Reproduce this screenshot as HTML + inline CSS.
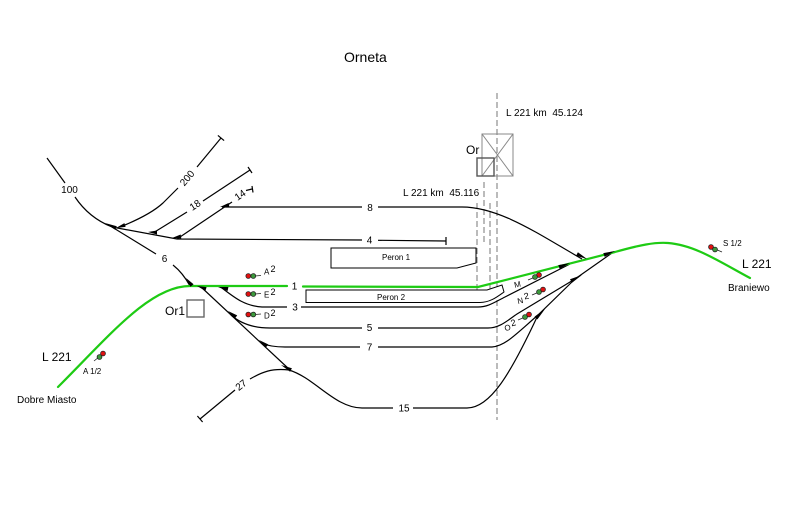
<!DOCTYPE html>
<html>
<head>
<meta charset="utf-8">
<style>
html,body{margin:0;padding:0;background:#fff;}
svg{display:block;}
text{font-family:"Liberation Sans",Arial,sans-serif;fill:#000;}
</style>
</head>
<body>
<svg width="787" height="506" viewBox="0 0 787 506" xmlns="http://www.w3.org/2000/svg">
<rect width="787" height="506" fill="#fff"/>

<!-- Title -->
<text x="344" y="62" font-size="14">Orneta</text>

<!-- Dashed km lines -->
<g stroke="#777" stroke-width="1" stroke-dasharray="6,3" fill="none">
  <line x1="497" y1="93" x2="497" y2="420"/>
  <line x1="484" y1="182" x2="484" y2="242"/>
  <line x1="477" y1="203" x2="477" y2="302"/>
  <line x1="490" y1="203" x2="490" y2="293"/>
</g>
<text x="506" y="116" font-size="10" xml:space="preserve">L 221 km  45.124</text>
<text x="403" y="196" font-size="10" xml:space="preserve">L 221 km  45.116</text>

<!-- Or building -->
<g fill="none">
  <rect x="482" y="134" width="31" height="42" stroke="#888" stroke-width="1"/>
  <line x1="482" y1="134" x2="513" y2="176" stroke="#888" stroke-width="1"/>
  <line x1="513" y1="134" x2="482" y2="176" stroke="#888" stroke-width="1"/>
  <rect x="477" y="158" width="17" height="18" stroke="#555" stroke-width="1.4"/>
</g>
<text x="466" y="154" font-size="12">Or</text>

<!-- Or1 -->
<rect x="187" y="300" width="17" height="17" fill="none" stroke="#666" stroke-width="1.4"/>
<text x="165" y="315" font-size="12">Or1</text>

<!-- Platforms -->
<polygon points="331,248 476,248 476,263 457,268 331,268" fill="#fff" stroke="#000" stroke-width="1"/>
<text x="382" y="260" font-size="8">Peron 1</text>
<path d="M306,290 L487,290 L502,285 L504,292 C497,297 490,302.5 480,302.5 L306,302.5 Z" fill="#fff" stroke="#000" stroke-width="1"/>
<text x="377" y="300" font-size="8">Peron 2</text>

<!-- Black tracks -->
<g stroke="#000" stroke-width="1.2" fill="none">
  <!-- 100 / 6 -->
  <path d="M47,158 L65,183"/>
  <path d="M75,197 C85,212 97,221 112,227 L156,254"/>
  <path d="M173,265 Q183,273 190,286"/>
  <!-- 200 -->
  <path d="M120,227 Q150,215 163,203 L178,188"/>
  <path d="M197,167 L221,138"/>
  <line x1="217.9" y1="135.4" x2="224.1" y2="140.6"/>
  <!-- branch line to 4 -->
  <path d="M112,227 L177,239 L362,240"/>
  <path d="M378,240.3 L446,241"/>
  <line x1="446" y1="237" x2="446" y2="245"/>
  <!-- 18 -->
  <path d="M153,233 L187,212"/>
  <path d="M203,201 L250,170"/>
  <line x1="248" y1="167" x2="252" y2="173"/>
  <!-- 14 -->
  <path d="M177,239 L232,202"/>
  <path d="M246,190.5 L252,189"/>
  <line x1="252" y1="186" x2="253" y2="192.5"/>
  <!-- 8 -->
  <path d="M222,207 L362,207"/>
  <path d="M378,207 L462,207 C500,207 540,235 582,259"/>
  <!-- diagonal -->
  <path d="M200,286 L290,370"/>
  <!-- 3 -->
  <path d="M222,288 C235,298 245,306 262,307 L287,307"/>
  <path d="M301,307 L478,307 C488,307 495,302 505,297 L570,264"/>
  <!-- 5 -->
  <path d="M231,315 C240,323 252,328 270,328 L362,328"/>
  <path d="M378,328 L488,328 C500,328 508,320 517,314 L575,279 L612,253"/>
  <!-- 7 -->
  <path d="M261,343 C268,346 275,347 285,347 L360,347"/>
  <path d="M378,347 L492,347 C505,346 515,335 538,315 L575,279"/>
  <!-- 15 -->
  <path d="M289,370 C315,378 335,408 362,408 L393,408"/>
  <path d="M413,408 L467,408 C490,408 510,375 538,315"/>
  <!-- 27 -->
  <path d="M200,419 L235,390"/>
  <path d="M250,379 C262,372 272,368 289,370"/>
  <line x1="197.4" y1="416" x2="202.6" y2="422"/>
</g>

<!-- Green main line L221 -->
<g stroke="#1ecb14" stroke-width="2.2" fill="none" stroke-linecap="round">
  <path d="M58,387 C110,335 150,286 190,286 L287,286"/>
  <path d="M303,286.5 L478,287 L615,252 C640,245 655,242 668,243 C695,245 720,262 750,278"/>
</g>

<!-- Switch triangles -->
<g fill="#000">
  <polygon points="105,223 116.8,226.2 115.2,229.8"/>
  <polygon points="116,228 124.4,223.1 125.6,226.9"/>
  <polygon points="148,232 157,230.5 157,234.5"/>
  <polygon points="172,238 180.7,234.5 181.3,238.5"/>
  <polygon points="220,207 228.6,203 229.4,207"/>
  <polygon points="186,278 190.4,286.7 193.6,284.3"/>
  <polygon points="197,286 205.4,290.9 206.6,287.1"/>
  <polygon points="218,287 227.6,291 228.4,287"/>
  <polygon points="228,311 234.8,318.6 237.2,315.4"/>
  <polygon points="259,340 265.8,347.6 268.2,344.4"/>
  <polygon points="281,365 290.1,371.8 291.9,368.2"/>
  <polygon points="545,309 534.6,316.6 537.4,319.4"/>
  <polygon points="582,275 570,279.2 572,282.8"/>
  <polygon points="570,263 558.3,265.1 559.7,268.9"/>
  <polygon points="587,259 577.9,252.2 576.1,255.8"/>
  <polygon points="615,251 603.3,253.1 604.7,256.9"/>
</g>

<!-- Track labels -->
<g font-size="10" text-anchor="middle">
  <text x="69.5" y="193">100</text>
  <text x="164.5" y="262">6</text>
  <text x="370" y="211">8</text>
  <text x="369.5" y="243.5">4</text>
  <text x="294.5" y="289.5">1</text>
  <text x="295" y="310.5">3</text>
  <text x="369.5" y="331">5</text>
  <text x="369.5" y="350.5">7</text>
  <text x="404" y="411.5">15</text>
  <text x="187" y="181.5" transform="rotate(-50 187 178)">200</text>
  <text x="195" y="208.5" transform="rotate(-33 195 205)">18</text>
  <text x="240" y="198.5" transform="rotate(-35 240 195)">14</text>
  <text x="241" y="388.5" transform="rotate(-38 241 385)">27</text>
</g>

<!-- Signals -->
<g stroke="#222" stroke-width="0.8">
  <!-- A2 -->
  <line x1="255" y1="276" x2="261" y2="275.5"/>
  <circle cx="248.3" cy="276" r="2.4" fill="#e21010"/>
  <circle cx="253.3" cy="276" r="2.4" fill="#3c9a3c"/>
  <!-- E2 -->
  <line x1="255" y1="294" x2="261" y2="293.5"/>
  <circle cx="248.3" cy="294" r="2.4" fill="#e21010"/>
  <circle cx="253.3" cy="294" r="2.4" fill="#3c9a3c"/>
  <!-- D2 -->
  <line x1="255" y1="314.5" x2="261" y2="314"/>
  <circle cx="248.3" cy="314.5" r="2.4" fill="#e21010"/>
  <circle cx="253.3" cy="314.5" r="2.4" fill="#3c9a3c"/>
  <!-- M -->
  <line x1="528" y1="280" x2="534" y2="277.5"/>
  <circle cx="539" cy="275" r="2.4" fill="#e21010"/>
  <circle cx="535" cy="277" r="2.4" fill="#3c9a3c"/>
  <!-- N2 -->
  <line x1="532" y1="295" x2="538" y2="292.5"/>
  <circle cx="543" cy="289.5" r="2.4" fill="#e21010"/>
  <circle cx="539" cy="292" r="2.4" fill="#3c9a3c"/>
  <!-- O2 -->
  <line x1="518" y1="320" x2="524" y2="317.5"/>
  <circle cx="529" cy="314.5" r="2.4" fill="#e21010"/>
  <circle cx="525" cy="317" r="2.4" fill="#3c9a3c"/>
  <!-- A 1/2 -->
  <line x1="94" y1="361" x2="99" y2="357"/>
  <circle cx="103" cy="353.5" r="2.4" fill="#e21010"/>
  <circle cx="99.5" cy="357" r="2.4" fill="#3c9a3c"/>
  <!-- S 1/2 -->
  <line x1="715" y1="249" x2="722" y2="252"/>
  <circle cx="711" cy="247" r="2.4" fill="#e21010"/>
  <circle cx="715" cy="249.5" r="2.4" fill="#3c9a3c"/>
</g>

<!-- Signal labels -->
<g font-size="8">
  <text x="264" y="274.5">A</text><text x="270.5" y="272" font-size="9">2</text>
  <text x="264" y="297.5">E</text><text x="270.5" y="295" font-size="9">2</text>
  <text x="264" y="318.5">D</text><text x="270.5" y="316" font-size="9">2</text>
  <text x="514" y="287" transform="rotate(-12 518 284)">M</text>
  <text x="517" y="303" transform="rotate(-12 522 299)">N</text><text x="524.5" y="300" font-size="9" transform="rotate(-12 522 299)">2</text>
  <text x="504" y="330" transform="rotate(-15 509 326)">O</text><text x="511.5" y="327" font-size="9" transform="rotate(-15 509 326)">2</text>
  <text x="83" y="374">A 1/2</text>
  <text x="723" y="246">S 1/2</text>
</g>

<!-- Line / place labels -->
<text x="42" y="361" font-size="12">L 221</text>
<text x="742" y="268" font-size="12">L 221</text>
<text x="17" y="403" font-size="10">Dobre Miasto</text>
<text x="728" y="291" font-size="10">Braniewo</text>

</svg>
</body>
</html>
